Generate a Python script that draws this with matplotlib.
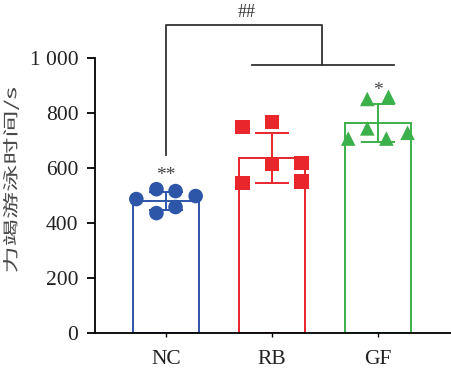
import matplotlib
matplotlib.use('Agg')
import matplotlib.pyplot as plt
import numpy as np
from matplotlib.textpath import TextPath
from matplotlib.patches import PathPatch
from matplotlib.font_manager import FontProperties
from matplotlib.transforms import Affine2D

groups = ['NC', 'RB', 'GF']
colors = ['#2d55a8', '#e8262b', '#3cb04a']
markers = ['o', 's', '^']
means = [480, 636, 763]
sds = [32, 92, 70]
nc_pts = [487, 523, 516, 498, 436, 458]
rb_pts = [749, 767, 615, 618, 545, 550]
gf_pts = [851, 859, 744, 707, 707, 728]
pts = [nc_pts, rb_pts, gf_pts]
# horizontal jitter of the dots, as seen in the picture
offs = [[-0.28, -0.09, 0.09, 0.28, -0.09, 0.09],
        [-0.28, 0.0, 0.0, 0.28, -0.28, 0.28],
        [-0.1, 0.1, -0.1, -0.28, 0.08, 0.28]]
stars = ['**', '', '*']
yticks = [0, 200, 400, 600, 800, 1000]
ytick_labels = ['0', '200', '400', '600', '800', '1 000']
ylabel = '力竭游泳时间/s'

serif = ['Liberation Serif', 'Noto Sans CJK SC']
W, H = 451, 375

fig = plt.figure(figsize=(W/100, H/100), dpi=100)
ax = fig.add_axes([95/W, 42/H, 356/W, 275/H])

x = np.arange(len(groups))
for i in range(3):
    ax.bar(x[i], means[i], width=0.63, facecolor='white', edgecolor=colors[i], linewidth=1.4, zorder=2)
    ax.errorbar(x[i], means[i], yerr=sds[i], color=colors[i], capsize=12, elinewidth=1.4,
                capthick=1.4, fmt='none', zorder=3)
    ax.scatter(x[i] + np.array(offs[i]), pts[i], marker=markers[i], s=110, color=colors[i],
               edgecolors='none', zorder=4)

ax.text(0, 540, stars[0], ha='center', va='bottom', fontsize=14, color='#444444', family=serif)
ax.text(2, 852, stars[2], ha='center', va='bottom', fontsize=14, color='#444444', family=serif)

# comparison bracket
lc = '#333333'
ax.plot([0, 0, 1.47, 1.47], [647, 1120, 1120, 976], color=lc, lw=1.3, clip_on=False)
ax.plot([0.81, 2.15], [976, 976], color=lc, lw=1.3, clip_on=False)
ax.text(0.76, 1167, '##', ha='center', va='center', fontsize=13, color='#333333', family=serif)

ax.set_xlim(-0.67, 2.69)
ax.set_ylim(0, 1000)
ax.set_xticks(x)
ax.set_xticklabels(groups, family=serif, fontsize=15.5, color='#222222')
ax.set_yticks(yticks)
ax.set_yticklabels(ytick_labels, family=serif, fontsize=15.5, color='#222222')
ax.tick_params(axis='y', length=6, width=1.3, pad=6)
ax.tick_params(axis='x', length=3, width=1, pad=9)
for s in ['top', 'right']:
    ax.spines[s].set_visible(False)
for s in ['left', 'bottom']:
    ax.spines[s].set_linewidth(1.3)

# y label: the original glyphs are drawn tall and narrow
tp = TextPath((0, 0), ylabel, size=1, prop=FontProperties(family='Noto Sans CJK SC', weight='light'))
ext = tp.get_extents()
length, thick = 184, 16
tr = (Affine2D().translate(-(ext.x0 + ext.x1) / 2, -(ext.y0 + ext.y1) / 2)
      .scale(length / ext.width, thick / ext.height)
      .rotate_deg(90).translate(11, H - 180)
      .scale(1 / W, 1 / H) + fig.transFigure)
fig.patches.append(PathPatch(tp, transform=tr, facecolor='#4a4a4a', edgecolor='none'))

fig.savefig('out.png', dpi=100)
